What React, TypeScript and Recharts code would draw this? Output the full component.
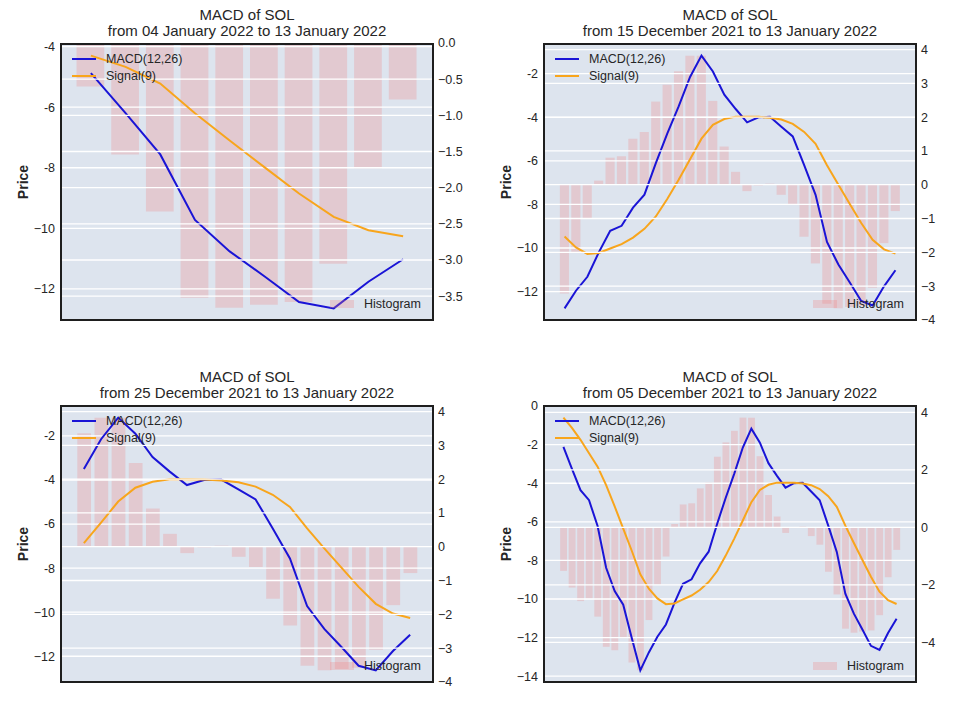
import React from "react";
import {
  ComposedChart,
  Line,
  Bar,
  XAxis,
  YAxis,
  CartesianGrid,
  ReferenceLine,
} from "recharts";

// last 40 daily values, 05 December 2021 -> 13 January 2022
const MACD = [
  -2.12, -3.26, -4.36, -4.88, -6.22, -8.38, -9.59, -10.3, -12.02, -13.7,
  -12.77, -11.96, -11.32, -10.2, -9.21, -8.98, -8.15, -7.55, -6.1, -4.75,
  -3.5, -2.15, -1.17, -1.9, -2.96, -3.62, -4.23, -4.0, -3.98, -4.43,
  -4.88, -6.2, -7.56, -9.72, -10.76, -11.58, -12.43, -12.64, -11.76, -11.02,
];

const SIGNAL = [
  -0.6, -1.13, -1.75, -2.45, -3.14, -4.1, -5.2, -6.35, -7.5, -8.72,
  -9.47, -9.97, -10.27, -10.23, -10.02, -9.82, -9.52, -9.12, -8.55, -7.75,
  -6.87, -5.93, -4.98, -4.35, -4.08, -3.97, -3.97, -3.98, -4.02, -4.1,
  -4.3, -4.67, -5.22, -6.2, -7.1, -7.98, -8.85, -9.62, -10.06, -10.26,
];

const HISTOGRAM = [
  -1.51, -2.09, -2.56, -2.47, -3.1, -4.15, -4.27, -3.85, -4.7, -4.97,
  -3.22, -1.99, -1.01, 0.12, 0.8, 0.84, 1.36, 1.56, 2.46, 2.96,
  3.36, 3.82, 3.82, 2.48, 1.13, 0.38, -0.19, -0.02, 0.03, -0.3,
  -0.6, -1.54, -2.33, -3.52, -3.66, -3.62, -3.58, -3.05, -1.73, -0.78,
];

const WINDOWS = [10, 30, 20, 40];
const START_DATES = [
  "04 January 2022",
  "15 December 2021",
  "25 December 2021",
  "05 December 2021",
];
const END_DATE = "13 January 2022";

const LEFT_TICKS = [
  [-12, -10, -8, -6, -4],
  [-12, -10, -8, -6, -4, -2],
  [-12, -10, -8, -6, -4, -2],
  [-14, -12, -10, -8, -6, -4, -2, 0],
];
const RIGHT_TICKS = [
  [-3.5, -3, -2.5, -2, -1.5, -1, -0.5, 0],
  [-4, -3, -2, -1, 0, 1, 2, 3, 4],
  [-4, -3, -2, -1, 0, 1, 2, 3, 4],
  [-4, -2, 0, 2, 4],
];

const FONT = '"Liberation Sans", Arial, Helvetica, sans-serif';
const TEXT = "#262626";
const BG = "#dde4ee";
const BLUE = "#1a14d6";
const ORANGE = "#f8a51c";
const BAR = "#f08080";
const BAR_ALPHA = 0.27;
const PLOT_W = 374;
const PLOT_H = 278;

const FRAMES = [
  { x: 60, y: 43 },
  { x: 543, y: 43 },
  { x: 60, y: 405 },
  { x: 543, y: 405 },
];

// matplotlib-like autoscale (5% margins, bars stick to zero)
const pad = (lo: number, hi: number) => 0.05 * (hi - lo);

const minus = (s: string) => s.replace("-", "\u2212");

const leftFmt = (v: number) => (v <= -10 ? minus(String(v)) : String(v));

const Panel = ({ idx }: { idx: number }) => {
  const n = WINDOWS[idx];
  const start = MACD.length - n;
  const rows = MACD.slice(start).map((m, k) => ({
    idx: k,
    macd: m,
    signal: SIGNAL[start + k],
    hist: HISTOGRAM[start + k],
  }));

  const lineVals = rows.flatMap((r) => [r.macd, r.signal]);
  const lLo = Math.min(...lineVals);
  const lHi = Math.max(...lineVals);
  const lp = pad(lLo, lHi);
  const leftDomain = [lLo - lp, lHi + lp];

  const hVals = rows.map((r) => r.hist);
  const hLo = Math.min(0, ...hVals);
  const hHi = Math.max(0, ...hVals);
  const hp = pad(hLo, hHi);
  const rightDomain = [hLo < 0 ? hLo - hp : 0, hHi > 0 ? hHi + hp : 0];

  const xp = 0.05 * (n - 1 + 0.8) + 0.4;
  const xDomain = [-xp, n - 1 + xp];
  const barPx = (0.8 * PLOT_W) / (xDomain[1] - xDomain[0]);

  const rightFmt = (v: number) =>
    minus(idx === 0 ? v.toFixed(1) : String(v));

  const f = FRAMES[idx];

  return (
    <>
      <div
        style={{
          position: "absolute",
          left: f.x,
          top: f.y - 36,
          width: PLOT_W,
          textAlign: "center",
          fontSize: 15,
          lineHeight: "16px",
          color: TEXT,
          fontFamily: FONT,
        }}
      >
        MACD of SOL
        <br />
        from {START_DATES[idx]} to {END_DATE}
      </div>
      <div
        style={{
          position: "absolute",
          left: f.x - 36.7 - 30,
          top: f.y + PLOT_H / 2 - 10,
          width: 60,
          height: 20,
          lineHeight: "20px",
          textAlign: "center",
          transform: "rotate(-90deg)",
          fontSize: 14,
          fontWeight: "bold",
          color: TEXT,
          fontFamily: FONT,
        }}
      >
        Price
      </div>
      <div style={{ position: "absolute", left: f.x - 45, top: f.y - 12 }}>
        <ComposedChart
          width={PLOT_W + 90}
          height={PLOT_H + 24}
          data={rows}
          margin={{ top: 12, right: 5, bottom: 12, left: 5 }}
        >
          <CartesianGrid
            yAxisId="left"
            fill={BG}
            fillOpacity={1}
            horizontal={false}
            vertical={false}
          />
          <XAxis
            dataKey="idx"
            type="number"
            domain={xDomain}
            allowDataOverflow
            hide
          />
          <YAxis
            yAxisId="left"
            orientation="left"
            type="number"
            domain={leftDomain}
            allowDataOverflow
            ticks={LEFT_TICKS[idx]}
            interval={0}
            width={40}
            axisLine={false}
            tickLine={false}
            tickSize={3}
            tickMargin={2}
            tickFormatter={leftFmt}
            tick={{ fill: TEXT, fontSize: 12.5, fontFamily: FONT }}
          />
          <YAxis
            yAxisId="right"
            orientation="right"
            type="number"
            domain={rightDomain}
            allowDataOverflow
            ticks={RIGHT_TICKS[idx]}
            interval={0}
            width={40}
            axisLine={false}
            tickLine={false}
            tickSize={3}
            tickMargin={1}
            tickFormatter={rightFmt}
            tick={{ fill: TEXT, fontSize: 12.5, fontFamily: FONT }}
          />
          {LEFT_TICKS[idx].map((t) => (
            <ReferenceLine
              key={`l${t}`}
              yAxisId="left"
              y={t}
              stroke="#ffffff"
              strokeWidth={1.3}
            />
          ))}
          <Line
            yAxisId="left"
            dataKey="macd"
            type="linear"
            stroke={BLUE}
            strokeWidth={2}
            dot={false}
            isAnimationActive={false}
          />
          <Line
            yAxisId="left"
            dataKey="signal"
            type="linear"
            stroke={ORANGE}
            strokeWidth={2}
            dot={false}
            isAnimationActive={false}
          />
          {RIGHT_TICKS[idx].map((t) => (
            <ReferenceLine
              key={`r${t}`}
              yAxisId="right"
              y={t}
              stroke="#ffffff"
              strokeWidth={1.3}
            />
          ))}
          <Bar
            yAxisId="right"
            dataKey="hist"
            fill={BAR}
            fillOpacity={BAR_ALPHA}
            barSize={barPx}
            isAnimationActive={false}
          />
        </ComposedChart>
      </div>
      <div
        style={{
          position: "absolute",
          left: f.x,
          top: f.y,
          width: PLOT_W,
          height: PLOT_H,
          boxSizing: "border-box",
          border: "2px solid #1e1e1e",
          pointerEvents: "none",
          fontFamily: FONT,
          fontSize: 12.5,
          color: TEXT,
        }}
      >
        {[
          { label: "MACD(12,26)", color: BLUE, top: 14 },
          { label: "Signal(9)", color: ORANGE, top: 31.4 },
        ].map((it) => (
          <div
            key={it.label}
            style={{
              position: "absolute",
              left: 10,
              top: it.top - 8,
              height: 16,
              display: "flex",
              alignItems: "center",
            }}
          >
            <div style={{ width: 24, height: 2, background: it.color }} />
            <div style={{ marginLeft: 10, whiteSpace: "nowrap" }}>
              {it.label}
            </div>
          </div>
        ))}
        <div
          style={{
            position: "absolute",
            right: 11,
            bottom: 7,
            height: 16,
            display: "flex",
            alignItems: "center",
          }}
        >
          <div
            style={{
              width: 24,
              height: 8,
              background: BAR,
              opacity: BAR_ALPHA,
            }}
          />
          <div style={{ marginLeft: 10, whiteSpace: "nowrap" }}>Histogram</div>
        </div>
      </div>
    </>
  );
};

export default function App() {
  return (
    <div
      style={{
        position: "absolute",
        left: 0,
        top: 0,
        width: 965,
        height: 724,
        background: "#ffffff",
        overflow: "hidden",
      }}
    >
      {WINDOWS.map((_, i) => (
        <Panel key={i} idx={i} />
      ))}
    </div>
  );
}
